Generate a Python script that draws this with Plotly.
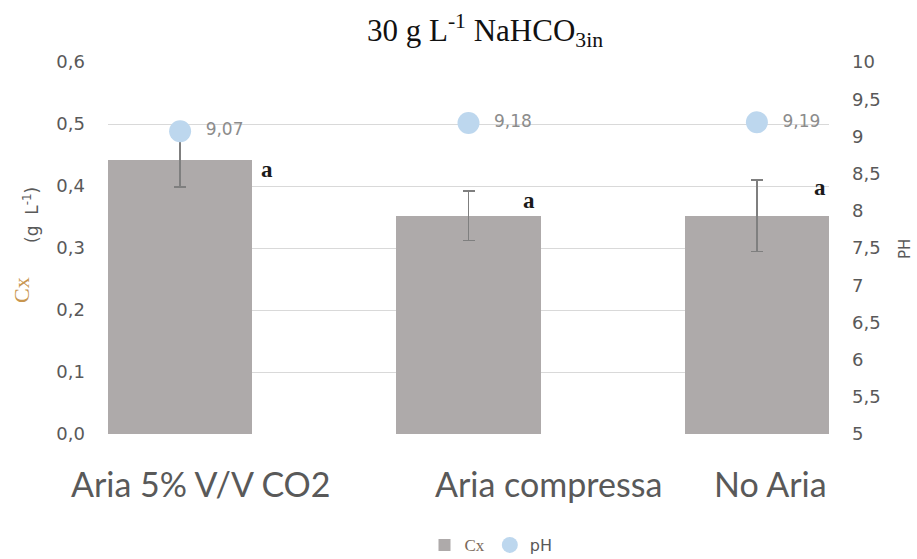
import plotly.graph_objects as go

# Treatment categories and measured values
categories = ["Aria 5% V/V CO2", "Aria compressa", "No Aria"]
cx_values = [0.442, 0.352, 0.352]          # biomass concentration, g L-1
cx_errors = [0.044, 0.040, 0.058]          # standard deviations
ph_values = [9.07, 9.18, 9.19]
ph_labels = ["9,07", "9,18", "9,19"]
letters = ["a", "a", "a"]                  # statistical grouping

left_ticks = [0, 0.1, 0.2, 0.3, 0.4, 0.5, 0.6]
left_ticktext = ["0,0", "0,1", "0,2", "0,3", "0,4", "0,5", "0,6"]
right_ticks = [5, 5.5, 6, 6.5, 7, 7.5, 8, 8.5, 9, 9.5, 10]
right_ticktext = ["5", "5,5", "6", "6,5", "7", "7,5", "8", "8,5", "9", "9,5", "10"]

idx = list(range(len(categories)))

GRAY_TXT = "#595959"
BAR = "#aeaaaa"
SANS = "DejaVu Sans"

W, H = 917, 559
ML, MR, MT, MB = 108, 88, 62, 125
pw, ph = W - ML - MR, H - MT - MB


def px_x(x):
    return (x - ML) / pw


def px_y(y):
    return (H - MB - y) / ph


fig = go.Figure()

fig.add_trace(go.Bar(
    x=idx, y=cx_values, width=0.5,
    name='<span style="font-family:Liberation Serif;font-size:17px;color:#7a6a5a">Cx</span>',
    marker=dict(color=BAR, line=dict(width=0)),
    error_y=dict(type="data", array=cx_errors, visible=True,
                 color="#7f7f7f", thickness=1.5, width=6),
    yaxis="y",
))

fig.add_trace(go.Scatter(
    x=idx, y=ph_values, name="pH", mode="markers+text",
    marker=dict(color="#bdd7ee", size=22),
    text=ph_labels, texttemplate="\u00a0\u00a0%{text}", textposition="middle right",
    textfont=dict(family=SANS, size=17, color="#8c8c8c"),
    yaxis="y2",
))

# letter of significance beside each bar
letter_dx = [0.30, 0.21, 0.22]
letter_dy = [-0.016, 0.025, 0.046]
for i, (lt, v) in enumerate(zip(letters, cx_values)):
    fig.add_annotation(x=i + letter_dx[i], y=v + letter_dy[i], xref="x", yref="y",
                       text="<b>" + lt + "</b>", showarrow=False,
                       font=dict(family="Liberation Serif", size=23, color="#1a1a1a"))

# category labels below the axis
label_shift = [21, 80, 14]
for i, c in enumerate(categories):
    fig.add_annotation(x=i, y=px_y(484), xref="x", yref="paper", yanchor="middle",
                       xanchor="center", xshift=label_shift[i], text=c, showarrow=False,
                       font=dict(family="Lato", size=34, color=GRAY_TXT))

# axis titles
fig.add_annotation(x=px_x(21), y=px_y(290), xref="paper", yref="paper", text="Cx",
                   showarrow=False, textangle=-90, xanchor="center", yanchor="middle",
                   font=dict(family="Liberation Serif", size=22, color="#c8964f"))
fig.add_annotation(x=px_x(31), y=px_y(215), xref="paper", yref="paper",
                   text="(g\u00a0\u00a0L<sup>-1</sup>)", showarrow=False, textangle=-90,
                   xanchor="center", yanchor="middle",
                   font=dict(family=SANS, size=17, color=GRAY_TXT))
fig.add_annotation(x=px_x(905), y=px_y(249), xref="paper", yref="paper", text="PH",
                   showarrow=False, textangle=-90, xanchor="center", yanchor="middle",
                   font=dict(family=SANS, size=15, color=GRAY_TXT))

fig.update_layout(
    width=W, height=H,
    margin=dict(l=ML, r=MR, t=MT, b=MB, autoexpand=False),
    paper_bgcolor="white", plot_bgcolor="white",
    title=dict(text="30 g L<sup>-1</sup> NaHCO<sub>3in</sub>",
               x=485 / W, xanchor="center", y=1 - 30 / H, yanchor="middle",
               font=dict(family="Liberation Serif", size=31, color="#111111")),
    xaxis=dict(range=[-0.25, 2.25], showticklabels=False, showgrid=False,
               zeroline=False, showline=False, ticks=""),
    yaxis=dict(range=[0, 0.6], tickvals=left_ticks, ticktext=left_ticktext,
               showgrid=True, gridcolor="#d9d9d9", gridwidth=1, zeroline=False,
               tickfont=dict(family=SANS, size=18, color=GRAY_TXT),
               ticks="", ticklabelstandoff=22),
    yaxis2=dict(range=[5, 10], tickvals=right_ticks, ticktext=right_ticktext,
                overlaying="y", side="right", showgrid=False, zeroline=False,
                tickfont=dict(family=SANS, size=18, color=GRAY_TXT),
                ticks="", ticklabelstandoff=22),
    showlegend=True,
    legend=dict(orientation="h", x=px_x(491), xanchor="center",
                y=px_y(545), yanchor="middle",
                font=dict(family=SANS, size=16, color=GRAY_TXT),
                itemwidth=30, tracegroupgap=0),
    bargap=0,
)

fig.write_html("out.html")
